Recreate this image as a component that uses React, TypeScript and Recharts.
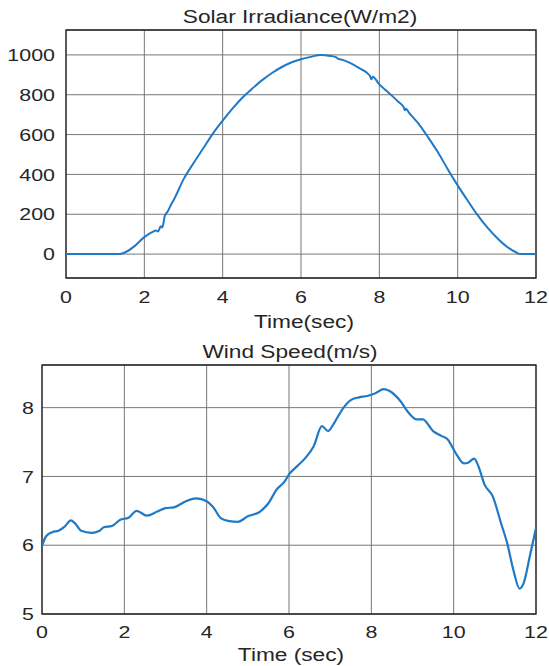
import { LineChart, Line, CartesianGrid, XAxis, YAxis, ReferenceArea } from "recharts";

const timeTicks = [0, 2, 4, 6, 8, 10, 12];

const solarTicks = [0, 200, 400, 600, 800, 1000];
const solarDomain = [-120, 1125];
const solarTime = [
  0, 0.5, 1.0, 1.35, 1.5, 1.75, 2.0, 2.2, 2.3, 2.35, 2.42, 2.46, 2.52, 2.6, 2.7, 2.75, 3.0, 3.25, 3.5, 3.75,
  4.0, 4.25, 4.5, 4.75, 5.0, 5.25, 5.5, 5.75, 6.0, 6.25, 6.5, 6.75, 6.9, 6.95, 7.0, 7.25, 7.5, 7.75, 7.8, 7.83,
  8.0, 8.25, 8.5, 8.62, 8.65, 8.68, 8.75, 9.0, 9.25, 9.5, 9.75, 10.0, 10.25, 10.5, 10.75, 11.0, 11.25, 11.5, 11.6, 12,
];
const solarValue = [
  0, 0, 0, 0, 8, 40, 85, 110, 118, 114, 140, 134, 190, 215, 255, 272, 375, 455, 530, 605,
  670, 730, 785, 830, 872, 908, 938, 962, 978, 990, 1000, 995, 988, 980, 978, 960, 932, 898, 878, 890,
  852, 808, 762, 738, 722, 730, 712, 655, 585, 510, 425, 345, 270, 198, 135, 82, 38, 8, 0, 0,
];

const windTicks = [5, 6, 7, 8];
const windDomain = [5, 8.62];
const windTime = [
  0, 0.1, 0.25, 0.4, 0.55, 0.7, 0.8, 0.95, 1.2, 1.4, 1.5, 1.7, 1.9, 2.1, 2.3, 2.55, 2.8, 3.0, 3.2, 3.5,
  3.75, 4.0, 4.15, 4.35, 4.55, 4.75, 5.0, 5.3, 5.5, 5.7, 5.9, 6.0, 6.2, 6.4, 6.6, 6.8, 6.95, 7.1, 7.3, 7.5,
  7.7, 7.9, 8.1, 8.3, 8.5, 8.7, 8.9, 9.1, 9.25, 9.5, 9.7, 9.85, 10.05, 10.25, 10.35, 10.5, 10.6, 10.75, 10.95, 11.15,
  11.3, 11.45, 11.6, 11.7, 11.85, 12.0,
];
const windValue = [
  5.99, 6.13, 6.19, 6.21, 6.27, 6.36, 6.32, 6.21, 6.18, 6.21, 6.26, 6.28, 6.37, 6.4, 6.5, 6.43, 6.49, 6.54, 6.55, 6.64,
  6.68, 6.64, 6.56, 6.39, 6.35, 6.34, 6.42, 6.49, 6.61, 6.81, 6.93, 7.03, 7.15, 7.27, 7.44, 7.73, 7.66, 7.78, 7.98, 8.11,
  8.15, 8.17, 8.21, 8.27, 8.22, 8.1, 7.93, 7.83, 7.83, 7.66, 7.59, 7.54, 7.34, 7.19, 7.2, 7.26, 7.15, 6.88, 6.71, 6.32,
  6.03, 5.64, 5.37, 5.45, 5.84, 6.25,
];

const solarData = solarTime.map((t, i) => ({ t, v: solarValue[i] }));
const windData = windTime.map((t, i) => ({ t, v: windValue[i] }));

const FONT = "'Liberation Sans', Arial, sans-serif";
const TEXT = "#262626";
const STRETCH = 1.26;
const LINE = "#1f79c7";

function XTick({ x, y, payload }: any) {
  return (
    <g transform={`translate(${x},${y})`}>
      <text transform={`scale(${STRETCH},1)`} textAnchor="middle" dy="0.71em" fontSize={17} fontFamily={FONT} fill={TEXT}>
        {payload.value}
      </text>
    </g>
  );
}

function YTick({ x, y, payload }: any) {
  return (
    <g transform={`translate(${x},${y})`}>
      <text transform={`scale(${STRETCH},1)`} textAnchor="end" dy="0.36em" fontSize={17} fontFamily={FONT} fill={TEXT}>
        {payload.value}
      </text>
    </g>
  );
}

function Caption({ text, cx, cy }: { text: string; cx: number; cy: number }) {
  return (
    <div
      style={{
        position: "absolute",
        left: cx,
        top: cy,
        transform: `translate(-50%, -50%) scaleX(${STRETCH})`,
        fontFamily: FONT,
        fontSize: 18,
        lineHeight: 1,
        color: TEXT,
        whiteSpace: "nowrap",
      }}
    >
      {text}
    </div>
  );
}

export default function App() {
  return (
    <div style={{ position: "absolute", left: 0, top: 0, width: 549, height: 666, background: "#fff" }}>
      <div style={{ position: "absolute", left: 0, top: 0 }}>
        <LineChart width={549} height={340} data={solarData} margin={{ top: 30, right: 13, left: 0, bottom: 12 }}>
          <CartesianGrid stroke="#777" strokeWidth={1} />
          <XAxis
            dataKey="t"
            type="number"
            domain={[0, 12]}
            ticks={timeTicks}
            allowDataOverflow
            axisLine={false}
            tickLine={false}
            tickSize={0}
            tickMargin={13}
            height={50}
            tick={<XTick />}
          />
          <YAxis
            type="number"
            domain={solarDomain}
            ticks={solarTicks}
            allowDataOverflow
            axisLine={false}
            tickLine={false}
            tickSize={0}
            tickMargin={11}
            width={66}
            tick={<YTick />}
          />
          <ReferenceArea x1={0} x2={12} y1={solarDomain[0]} y2={solarDomain[1]} fill="none" stroke={TEXT} strokeWidth={1.3} />
          <Line type="monotone" dataKey="v" stroke={LINE} strokeWidth={2} dot={false} isAnimationActive={false} />
        </LineChart>
      </div>
      <div style={{ position: "absolute", left: 0, top: 330 }}>
        <LineChart width={549} height={336} data={windData} margin={{ top: 35, right: 13, left: 0, bottom: 12 }}>
          <CartesianGrid stroke="#777" strokeWidth={1} />
          <XAxis
            dataKey="t"
            type="number"
            domain={[0, 12]}
            ticks={timeTicks}
            allowDataOverflow
            axisLine={false}
            tickLine={false}
            tickSize={0}
            tickMargin={12}
            height={40}
            tick={<XTick />}
          />
          <YAxis
            type="number"
            domain={windDomain}
            ticks={windTicks}
            allowDataOverflow
            axisLine={false}
            tickLine={false}
            tickSize={0}
            tickMargin={8}
            width={42}
            tick={<YTick />}
          />
          <ReferenceArea x1={0} x2={12} y1={windDomain[0]} y2={windDomain[1]} fill="none" stroke={TEXT} strokeWidth={1.3} />
          <Line type="monotone" dataKey="v" stroke={LINE} strokeWidth={2.2} dot={false} isAnimationActive={false} />
        </LineChart>
      </div>
      <Caption text="Solar Irradiance(W/m2)" cx={300} cy={17} />
      <Caption text="Time(sec)" cx={304} cy={322} />
      <Caption text="Wind Speed(m/s)" cx={290} cy={352} />
      <Caption text="Time (sec)" cx={291} cy={655} />
    </div>
  );
}
